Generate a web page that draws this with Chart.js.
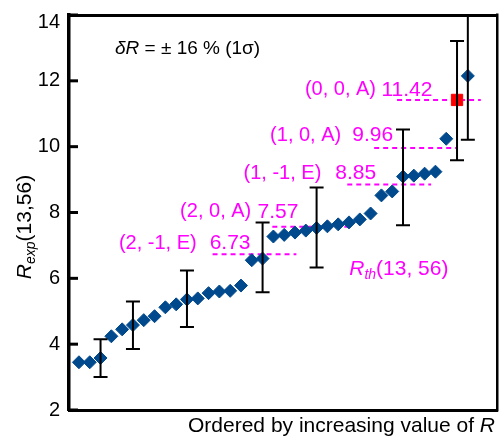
<!DOCTYPE html>
<html>
<head>
<meta charset="utf-8">
<script src="https://cdn.jsdelivr.net/npm/chart.js@4.4.0/dist/chart.umd.min.js"></script>
<style>
  html, body { margin: 0; padding: 0; background: #fff; overflow: hidden; }
</style>
</head>
<body>
<canvas id="rChart" width="501" height="438"></canvas>
<script>
// measured ratios, ordered by increasing value of R
const rank = [1, 2, 3, 4, 5, 6, 7, 8, 9, 10, 11, 12, 13, 14, 15, 16, 17, 18, 19, 20,
              21, 22, 23, 24, 25, 26, 27, 28, 29, 30, 31, 32, 33, 34, 35, 36, 37];
const rExp = [3.45, 3.45, 3.58, 4.24, 4.45, 4.58, 4.73, 4.85, 5.12, 5.21, 5.36, 5.39,
              5.55, 5.60, 5.62, 5.78, 6.55, 6.60, 7.27, 7.32, 7.39, 7.45, 7.53, 7.58,
              7.64, 7.70, 7.79, 7.97, 8.52, 8.64, 9.09, 9.12, 9.18, 9.24, 10.24, 11.42, 12.15];
const keyRank = [36]; // red square

// 1 sigma error bars (only some points carry one)
const errRank = [3, 6, 11, 18, 23, 31, 36, 37];
const errLow  = [3.00, 3.85, 4.52, 5.58, 6.33, 7.61, 9.59, 10.21];
const errHigh = [4.15, 5.30, 6.24, 7.70, 8.76, 10.52, 13.21, 14.10];

// theoretical ratios R_th(13, 56)
const thLabels = ['(0, 0, A)', '(1, 0, A)', '(1, -1, E)', '(2, 0, A)', '(2, -1, E)'];
const thValues = [11.42, 9.96, 8.85, 7.57, 6.73];
const thFrom   = [30.45, 28.33, 25.84, 18.9, 13.37];
const thTo     = [38.2, 36.0, 33.6, 26.3, 21.13];

const yTicks = [2, 4, 6, 8, 10, 12, 14];

// where the theory labels sit (data units)
const thTextNumX = [29.0, 26.30, 24.73, 17.53, 13.10];
const thTextPreX = [28.5, 25.28, 23.44, 16.95, 11.90];
const thTextY    = [11.73, 10.35, 9.20, 8.02, 7.06];

const FONT = '"Liberation Sans", Arial, sans-serif';
const BLUE = '#00498d';
const MAGENTA = '#ff00ff';

function setFont(ctx, size, italic) {
    ctx.font = (italic ? 'italic ' : '') + size + 'px ' + FONT;
}

// draw a list of text runs (for italics / subscripts)
function drawRuns(ctx, runs, x, y, align) {
    let total = 0;
    runs.forEach(r => {
        setFont(ctx, r.size, r.italic);
        r.w = ctx.measureText(r.text).width;
        total += r.w;
    });
    let cx = align === 'right' ? x - total : align === 'center' ? x - total / 2 : x;
    ctx.textAlign = 'left';
    runs.forEach(r => {
        setFont(ctx, r.size, r.italic);
        ctx.fillText(r.text, cx, y + (r.dy || 0));
        cx += r.w;
    });
}

const decor = {
    id: 'decor',
    afterDatasetsDraw(chart) {
        const ctx = chart.ctx;
        const xs = chart.scales.x, ys = chart.scales.y;
        const area = chart.chartArea;

        // error bars
        ctx.save();
        ctx.beginPath();
        ctx.rect(area.left, area.top, area.right - area.left, area.bottom - area.top);
        ctx.clip();
        ctx.strokeStyle = '#000';
        ctx.lineWidth = 2;
        ctx.setLineDash([]);
        errRank.forEach((r, i) => {
            const px = xs.getPixelForValue(r);
            const lo = ys.getPixelForValue(errLow[i]);
            const hi = ys.getPixelForValue(errHigh[i]);
            ctx.beginPath();
            ctx.moveTo(px, lo); ctx.lineTo(px, hi);
            ctx.moveTo(px - 7, lo); ctx.lineTo(px + 7, lo);
            ctx.moveTo(px - 7, hi); ctx.lineTo(px + 7, hi);
            ctx.stroke();
        });
        ctx.restore();

        ctx.save();
        ctx.fillStyle = MAGENTA;
        ctx.textBaseline = 'middle';
        thLabels.forEach((lab, i) => {
            const y = ys.getPixelForValue(thTextY[i]);
            setFont(ctx, 20, false);
            ctx.textAlign = 'right';
            ctx.fillText(lab, xs.getPixelForValue(thTextPreX[i]), y);
            setFont(ctx, 21, false);
            ctx.textAlign = 'left';
            ctx.fillText(thValues[i].toFixed(2), xs.getPixelForValue(thTextNumX[i]), y);
        });
        drawRuns(ctx, [
            { text: 'R', size: 21, italic: true },
            { text: 'th', size: 14, italic: true, dy: 6 },
            { text: '(13, 56)', size: 21 }
        ], xs.getPixelForValue(26.02), ys.getPixelForValue(6.27), 'left');
        ctx.restore();
    },
    afterDraw(chart) {
        const ctx = chart.ctx;
        const ys = chart.scales.y;
        const a = chart.chartArea;
        ctx.save();
        ctx.fillStyle = '#000';
        // right edge of the frame
        ctx.fillRect(a.right - 1, a.top - 1.5, 2.5, a.bottom - a.top + 3);
        // inward tick marks + tick labels
        setFont(ctx, 20, false);
        ctx.textAlign = 'right';
        ctx.textBaseline = 'middle';
        yTicks.forEach(t => {
            const py = ys.getPixelForValue(t);
            ctx.fillRect(a.left, py - 1.5, 9, 3);
            ctx.fillText(String(t), a.left - 9, Math.max(py, a.top + 7));
        });

        // texts
        ctx.textBaseline = 'alphabetic';
        drawRuns(ctx, [
            { text: '\u03b4R', size: 19, italic: true },
            { text: ' = \u00b1 16 % (1\u03c3)', size: 19 }
        ], 115, 54, 'left');
        drawRuns(ctx, [
            { text: 'Ordered by increasing value of ', size: 21 },
            { text: 'R', size: 21, italic: true }
        ], 495, 432, 'right');

        ctx.translate(31, 227);
        ctx.rotate(-Math.PI / 2);
        drawRuns(ctx, [
            { text: 'R', size: 21, italic: true },
            { text: 'exp', size: 14, italic: true, dy: 4 },
            { text: '(13,56)', size: 21 }
        ], 0, 0, 'center');
        ctx.restore();
    }
};

const points = rank.map((r, i) => ({ x: r, y: rExp[i] }));

const thLines = thValues.map((v, i) => ({
    type: 'line',
    data: [{ x: thFrom[i], y: v }, { x: thTo[i], y: v }],
    xAxisID: 'x',
    yAxisID: 'y',
    borderColor: MAGENTA,
    borderWidth: 2,
    borderDash: [5, 4],
    pointRadius: 0,
    showLine: true,
    order: 3
}));

// frame axes: only their border lines are shown
function frameAxis(position, size, width) {
    return {
        type: 'linear',
        position: position,
        min: 0, max: 1,
        afterFit(scale) {
            if (scale.isHorizontal()) scale.height = size; else scale.width = size;
            scale.paddingTop = scale.paddingBottom = scale.paddingLeft = scale.paddingRight = 0;
        },
        ticks: { display: false },
        grid: { display: false, drawTicks: false },
        border: { display: true, color: '#000', width: width }
    };
}

new Chart(document.getElementById('rChart'), {
    type: 'scatter',
    data: {
        datasets: [
            ...thLines,
            {
                label: 'R_exp',
                data: points.filter(p => !keyRank.includes(p.x)),
                xAxisID: 'x',
                yAxisID: 'y',
                pointStyle: 'rectRot',
                pointRadius: 6.5,
                borderWidth: 1,
                backgroundColor: BLUE,
                borderColor: BLUE,
                order: 2
            },
            {
                label: 'key',
                data: points.filter(p => keyRank.includes(p.x)),
                xAxisID: 'x',
                yAxisID: 'y',
                pointStyle: 'rect',
                pointRadius: 8,
                borderWidth: 1,
                backgroundColor: '#ff0000',
                borderColor: '#ff0000',
                order: 1
            }
        ]
    },
    options: {
        responsive: false,
        animation: false,
        devicePixelRatio: 1,
        layout: { padding: 0, autoPadding: false },
        scales: {
            x: Object.assign(frameAxis('bottom', 28, 3), { min: 0.08, max: 39.7 }),
            y: Object.assign(frameAxis('left', 69, 3.5), { min: 2, max: 14 }),
            xTop: frameAxis('top', 15, 3),
            yRight: frameAxis('right', 4, 2)
        },
        plugins: { legend: { display: false }, tooltip: { enabled: false } }
    },
    plugins: [decor]
});
</script>
</body>
</html>
